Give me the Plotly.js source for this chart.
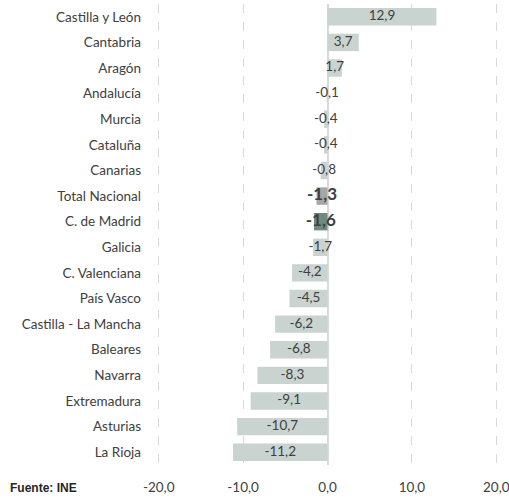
<!DOCTYPE html>
<html>
<head>
<meta charset="utf-8">
<script src="https://cdn.plot.ly/plotly-3.0.1.min.js"></script>
<style>html,body{margin:0;padding:0;background:#fff;}#chart{width:509px;height:499px;}</style>
</head>
<body>
<div id="chart"></div>
<script>
var regions = ["Castilla y León","Cantabria","Aragón","Andalucía","Murcia","Cataluña","Canarias","Total Nacional","C. de Madrid","Galicia","C. Valenciana","País Vasco","Castilla - La Mancha","Baleares","Navarra","Extremadura","Asturias","La Rioja"];
var values = [12.9, 3.7, 1.7, -0.1, -0.4, -0.4, -0.8, -1.3, -1.6, -1.7, -4.2, -4.5, -6.2, -6.8, -8.3, -9.1, -10.7, -11.2];
var tickValues = [-20, -10, 0, 10, 20];
var tickLabels = ["-20,0", "-10,0", "0,0", "10,0", "20,0"];

var highlight = {"Total Nacional": "#a6a6a6", "C. de Madrid": "#6f8b80"};
var barColors = regions.map(function(r){ return highlight[r] || "#c9d3cf"; });
var fmt = function(v){ return v.toFixed(1).replace(".", ","); };
var labelText = values.map(function(v, i){
  var s = fmt(v);
  return highlight[regions[i]] ? "<b>" + s + "</b>" : s;
});
var labelSize = regions.map(function(r){ return highlight[r] ? 17 : 13.5; });

var font = "Lato, 'Open Sans', sans-serif";

var bars = {
  type: "bar", orientation: "h", x: values, y: regions,
  marker: {color: barColors}, width: 0.68, hoverinfo: "skip"
};
var labels = {
  type: "scatter", mode: "text",
  x: values.map(function(v){ return v / 2; }), y: regions,
  text: labelText, textposition: "middle center",
  textfont: {family: font, size: labelSize, color: "#404040"},
  hoverinfo: "skip", cliponaxis: false
};

var layout = {
  width: 509, height: 499,
  margin: {l: 157, r: 11, t: 4, b: 34},
  showlegend: false,
  plot_bgcolor: "#fff", paper_bgcolor: "#fff",
  font: {family: font, size: 13, color: "#404040"},
  xaxis: {
    range: [-20.2, 20.2], tickvals: tickValues, ticktext: tickLabels,
    showgrid: true, gridcolor: "#d9d9d9", griddash: "dash", gridwidth: 1,
    zeroline: true, zerolinecolor: "#d9d9d9", zerolinewidth: 2,
    showline: false, ticks: "", ticklabelstandoff: 12, ticklabeloverflow: "allow",
    tickfont: {family: font, size: 13.5, color: "#404040"}, fixedrange: true
  },
  yaxis: {
    range: [17.5, -0.5], showgrid: false, zeroline: false, showline: false,
    ticks: "", ticklabelstandoff: 15,
    tickfont: {family: font, size: 13.5, color: "#404040"}, fixedrange: true
  },
  annotations: [{
    xref: "paper", yref: "paper", x: -149/341, y: -0.05, xanchor: "left", yanchor: "middle",
    text: "<b>Fuente: INE</b>", showarrow: false,
    font: {family: "'Liberation Sans', Arial, sans-serif", size: 12, color: "#262626"}
  }]
};

Plotly.newPlot("chart", [bars, labels], layout, {displayModeBar: false, staticPlot: true});
</script>
</body>
</html>
